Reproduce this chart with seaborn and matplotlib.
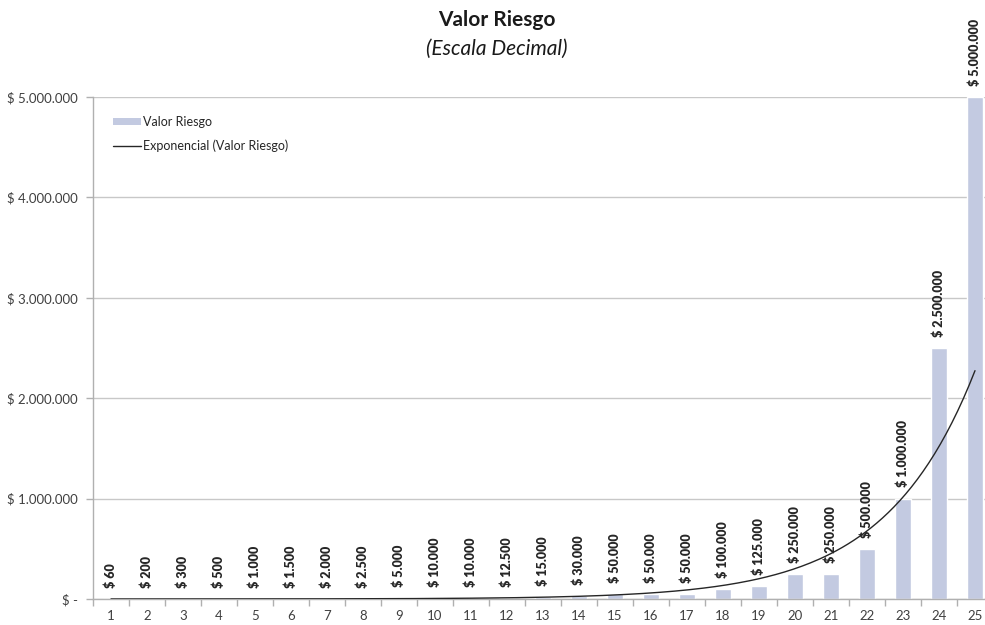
import numpy as np
import pandas as pd
import matplotlib
matplotlib.use("Agg")
import matplotlib.pyplot as plt
import seaborn as sns
from matplotlib.ticker import FuncFormatter, FixedLocator
from matplotlib.patches import Patch
from matplotlib.lines import Line2D

categories = [str(i) for i in range(1, 26)]
values = [60, 200, 300, 500, 1000, 1500, 2000, 2500, 5000, 10000, 10000, 12500,
          15000, 30000, 50000, 50000, 50000, 100000, 125000, 250000, 250000,
          500000, 1000000, 2500000, 5000000]
yticks = [0, 1000000, 2000000, 3000000, 4000000, 5000000]
title = "Valor Riesgo"
subtitle = "(Escala Decimal)"
legend_bar = "Valor Riesgo"
legend_line = "Exponencial (Valor Riesgo)"

sns.set_theme(style="white")
plt.rcParams['font.family'] = ['Lato', 'DejaVu Sans']

def money(v):
    if v == 0:
        return "$ -"
    return "$ " + f"{int(v):,}".replace(",", ".")

W, H = 985, 625
fig = plt.figure(figsize=(W / 100, H / 100), dpi=100)
ax = fig.add_axes([93 / W, 1 - 599 / H, 900 / W, (599 - 97) / H])

df = pd.DataFrame({"cat": categories, "val": values})
bar_color = "#c3cae1"
sns.barplot(data=df, x="cat", y="val", color=bar_color, width=0.45,
            saturation=1, ax=ax, zorder=2)

# Exponential trendline (least squares on log values, as in Excel)
xs = np.arange(1, len(values) + 1)
b, a = np.polyfit(xs, np.log(values), 1)
xfine = np.linspace(1, len(values), 300)
ax.plot(xfine - 1, np.exp(a + b * xfine), color="#262626", lw=1.0, zorder=4)

# data labels
for i, v in enumerate(values):
    ax.annotate(money(v), (i, v), xytext=(0, 8), textcoords="offset points",
                rotation=90, ha="center", va="bottom", fontsize=9,
                fontweight="heavy", color="#262626", zorder=5)

ax.set_xlim(-0.5, len(values) - 0.5)
ax.set_ylim(0, 5000000)
ax.yaxis.set_major_locator(FixedLocator(yticks))
ax.yaxis.set_major_formatter(FuncFormatter(lambda v, p: money(v)))
ax.grid(axis="y", color="#c8c8c8", lw=1, zorder=0)
ax.set_axisbelow(True)
ax.set_xlabel("")
ax.set_ylabel("")
for s in ["top", "right"]:
    ax.spines[s].set_visible(False)
for s in ["left", "bottom"]:
    ax.spines[s].set_color("#b0b0b0")
    ax.spines[s].set_linewidth(1)
ax.tick_params(axis="y", labelsize=9.5, labelcolor="#404040", length=5,
               color="#b0b0b0", width=1, pad=6, direction="out", left=True)
ax.tick_params(axis="x", labelsize=9.5, labelcolor="#404040", length=0, pad=8)
ax.set_xticks(np.arange(-0.5, len(values), 1.0), minor=True)
ax.tick_params(axis="x", which="minor", length=5, color="#b0b0b0", width=1,
               bottom=True, direction="out")

handles = [Patch(facecolor=bar_color, edgecolor="none", label=legend_bar),
           Line2D([0], [0], color="#262626", lw=1.0, label=legend_line)]
ax.legend(handles=handles, loc="upper left", bbox_to_anchor=(0.01, 0.985),
          frameon=False, fontsize=9, handlelength=2.2, handleheight=0.5,
          labelspacing=0.9, handletextpad=0.2)

fig.text(497 / W, 1 - 20 / H, title, ha="center", va="center",
         fontsize=15, fontweight="bold", color="#1a1a1a")
fig.text(497 / W, 1 - 49 / H, subtitle, ha="center", va="center",
         fontsize=15, fontstyle="italic", color="#1a1a1a")

fig.savefig("out.png", dpi=100)
